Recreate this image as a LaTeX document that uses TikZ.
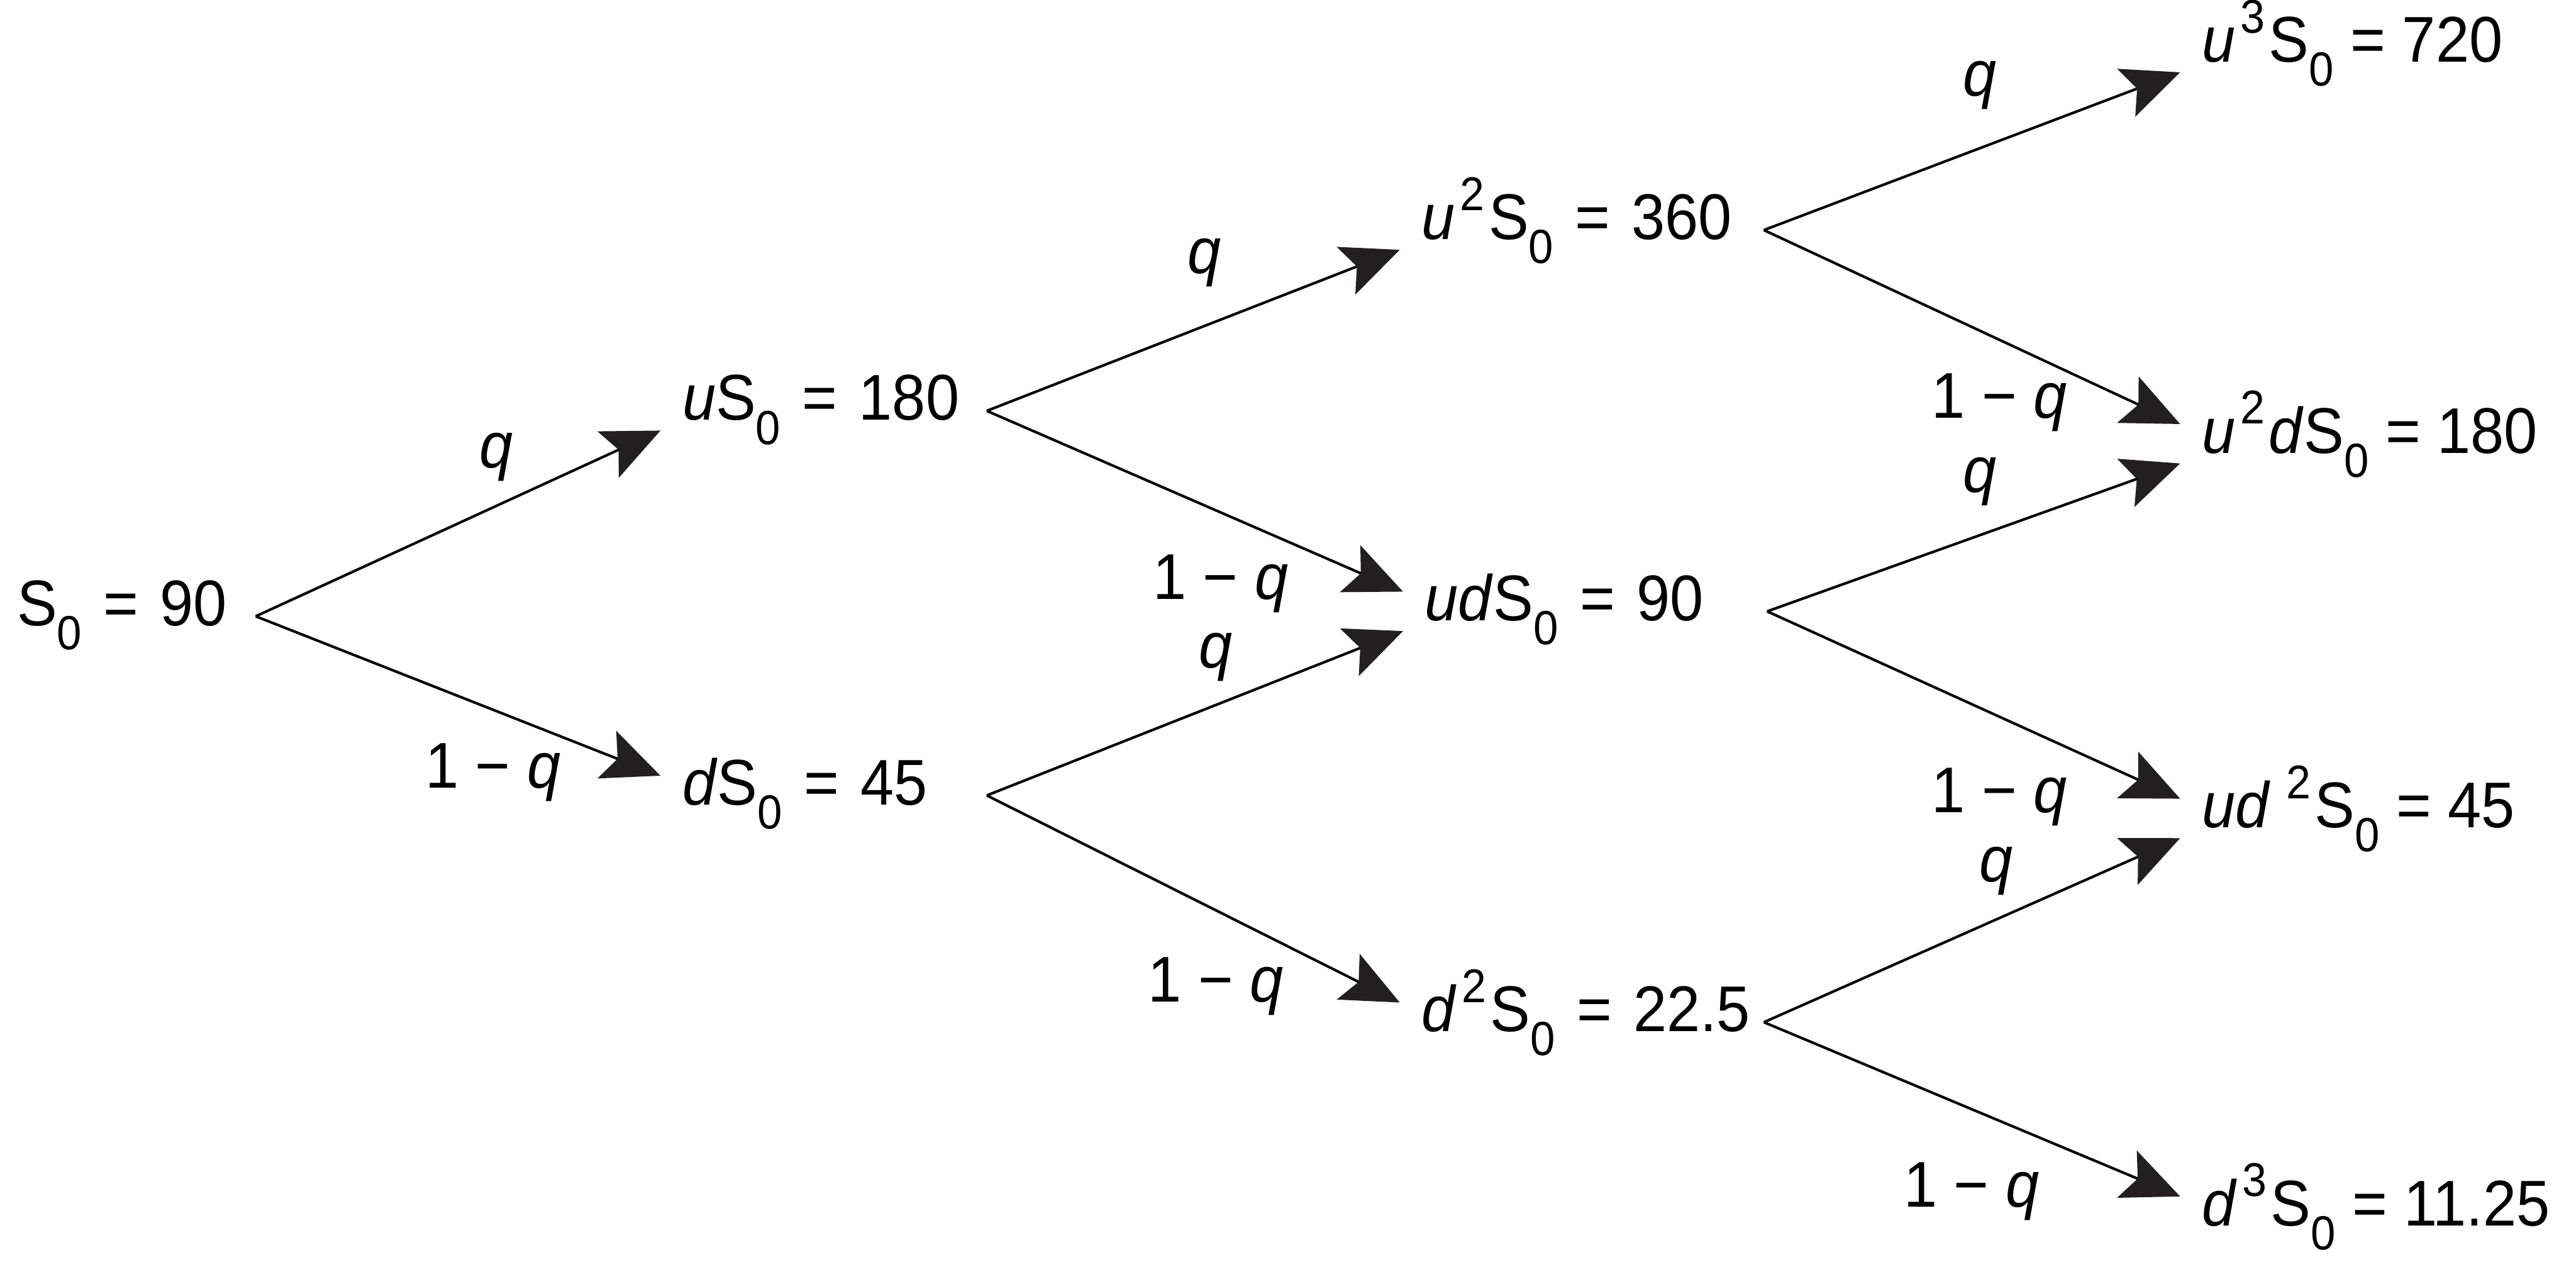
\documentclass[tikz,border=0pt]{standalone}
\usepackage{fontspec}
\setmainfont{Liberation Sans}[FakeStretch=0.93]
\usetikzlibrary{arrows.meta}
\definecolor{tipgray}{RGB}{35,31,32}

\newcommand{\low}[1]{\raisebox{-0.37em}{\fontsize{16.6}{16.6}\selectfont #1}}
\newcommand{\high}[1]{\kern0.08em\raisebox{0.45em}{\fontsize{16.4}{16.4}\selectfont #1}\kern0.06em}

\begin{document}
\begin{tikzpicture}[x=0.02cm,y=-0.02cm,
  every node/.style={font=\fontsize{22.4}{26}\selectfont, inner sep=0pt},
  val/.style={anchor=west, text height=0.95em, text depth=0.3em},
  col/.style={text width=#1, align=left},
  br/.style={line width=0.9pt, -{Stealth[length=0.7cm, width=0.62cm, inset=0.14cm, color=tipgray]}}]
\def\gap{0.26cm}
\def\off{0.24cm}
\useasboundingbox (0,0) rectangle (1568,778);

%prices, column by column
\node[val, col=2.9cm] (n00) at (10,375) {S\low{0} = 90};

\node[val, col=3.7cm] (n10) at (415,250) {\textit{u}S\low{0} = 180};
\node[val, col=3.7cm] (n11) at (415,484) {\textit{d}S\low{0} = 45};

\node[val, col=4.16cm] (n20) at (865,140) {\textit{u}\high{2}S\low{0} = 360};
\node[val, col=4.16cm] (n21) at (867,372) {\textit{ud}S\low{0} = 90};
\node[val, col=4.16cm] (n22) at (865,622) {\textit{d}\high{2}S\low{0} = 22.5};

\node[val] (n30) at (1340,32) {\textit{u}\high{3}S\low{0} = 720};
\node[val] (n31) at (1340,270) {\textit{u}\high{2}\textit{d}S\low{0} = 180};
\node[val] (n32) at (1340,498) {\textit{ud}\,\high{2}S\low{0} = 45};
\node[val] (n33) at (1340,740) {\textit{d}\high{3}S\low{0} = 11.25};

%branches
\draw[br] (n00.east) -- ([xshift=-\gap,yshift=-\off]n10.west);
\draw[br] (n00.east) -- ([xshift=-\gap,yshift=\off]n11.west);

\draw[br] (n10.east) -- ([xshift=-\gap,yshift=-\off]n20.west);
\draw[br] (n10.east) -- ([xshift=-\gap,yshift=\off]n21.west);
\draw[br] (n11.east) -- ([xshift=-\gap,yshift=-\off]n21.west);
\draw[br] (n11.east) -- ([xshift=-\gap,yshift=\off]n22.west);

\draw[br] (n20.east) -- ([xshift=-\gap,yshift=-\off]n30.west);
\draw[br] (n20.east) -- ([xshift=-\gap,yshift=\off]n31.west);
\draw[br] (n21.east) -- ([xshift=-\gap,yshift=-\off]n31.west);
\draw[br] (n21.east) -- ([xshift=-\gap,yshift=\off]n32.west);
\draw[br] (n22.east) -- ([xshift=-\gap,yshift=-\off]n32.west);
\draw[br] (n22.east) -- ([xshift=-\gap,yshift=\off]n33.west);

%probabilities
\node (p1) at (302,278) {\textit{q}};
\node (p2) at (300,470) {1 − \textit{q}};
\node (p3) at (733,160) {\textit{q}};
\node (p4) at (743,355) {1 − \textit{q}};
\node (p5) at (740,400) {\textit{q}};
\node (p6) at (740,600) {1 − \textit{q}};
\node (p7) at (1205,52) {\textit{q}};
\node (p8) at (1217,245) {1 − \textit{q}};
\node (p9) at (1205,293) {\textit{q}};
\node (p10) at (1217,485) {1 − \textit{q}};
\node (p11) at (1215,530) {\textit{q}};
\node (p12) at (1200,725) {1 − \textit{q}};
\end{tikzpicture}
\end{document}
